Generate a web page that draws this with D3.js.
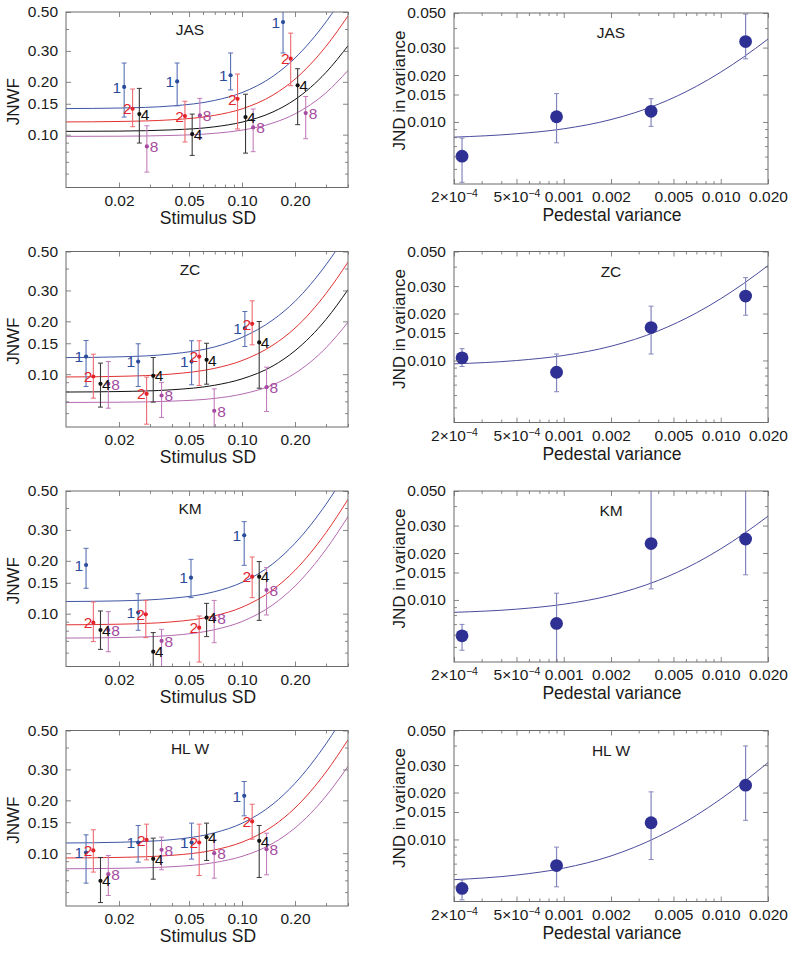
<!DOCTYPE html>
<html><head><meta charset="utf-8">
<script src="https://cdn.jsdelivr.net/npm/d3@7/dist/d3.min.js"></script>
<style>
html,body{margin:0;padding:0;background:#fff;}
svg{display:block;font-family:"Liberation Sans",Arial,Helvetica,sans-serif;}
</style></head>
<body><svg id="c" width="800" height="958"></svg>
<script>
// ---------------- DATA ----------------
const subjects = ["JAS", "ZC", "KM", "HL W"];
const seriesNames = ["1", "2", "4", "8"];

// Left panels: stimulus SD (x), JNWF (y), error-bar low/high, per series 1,2,4,8
const JAS_sd   = [[0.0214,0.0428,0.0861,0.171],[0.0239,0.0474,0.0943,0.189],[0.0261,0.0521,0.1047,0.207],[0.0288,0.0576,0.1157,0.230]];
const JAS_jnwf = [[0.187,0.201,0.218,0.438],[0.1405,0.1277,0.160,0.271],[0.131,0.1008,0.126,0.191],[0.0857,0.1288,0.110,0.1328]];
const JAS_lo   = [[0.126,0.146,0.180,0.292],[0.111,0.0908,0.1077,0.190],[0.0896,0.0762,0.0785,0.114],[0.0612,0.0950,0.080,0.0948]];
const JAS_hi   = [[0.256,0.256,0.292,0.55],[0.182,0.155,0.2215,0.379],[0.1835,0.131,0.170,0.2376],[0.1124,0.161,0.140,0.165]];

const ZC_sd    = [[0.0130,0.0257,0.0517,0.1038],[0.0143,0.0287,0.0571,0.1142],[0.0157,0.0313,0.0629,0.1252],[0.0174,0.0349,0.0695,0.1378]];
const ZC_jnwf  = [[0.126,0.118,0.118,0.183],[0.097,0.0773,0.126,0.1936],[0.0881,0.0979,0.1207,0.1516],[0.0881,0.0756,0.0618,0.0843]];
const ZC_lo    = [[0.0851,0.0851,0.087,0.1438],[0.073,0.0519,0.0862,0.147],[0.0649,0.0693,0.0877,0.0832],[0.064,0.0567,0.048,0.0613]];
const ZC_hi    = [[0.1556,0.149,0.155,0.2276],[0.130,0.0962,0.155,0.2618],[0.1156,0.1244,0.150,0.1996],[0.118,0.0896,0.0825,0.1096]];

const KM_sd    = [[0.0130,0.0257,0.0513,0.1029],[0.0143,0.0284,0.0571,0.1142],[0.0157,0.0313,0.0629,0.1252],[0.0174,0.0349,0.0695,0.1378]];
const KM_jnwf  = [[0.1894,0.1014,0.1604,0.2795],[0.0889,0.0992,0.0832,0.1625],[0.0807,0.0607,0.0949,0.1625],[0.0807,0.0699,0.094,0.1364]];
const KM_lo    = [[0.1395,0.0804,0.1234,0.1886],[0.0693,0.073,0.053,0.1234],[0.0626,0.048,0.074,0.0916],[0.0607,0.048,0.0683,0.0983]];
const KM_hi    = [[0.2357,0.130,0.204,0.3345],[0.1166,0.119,0.097,0.2104],[0.1036,0.078,0.1145,0.198],[0.1027,0.0814,0.119,0.183]];

const HLW_sd   = [[0.0130,0.0257,0.0517,0.1029],[0.0143,0.0287,0.0571,0.1142],[0.0157,0.0313,0.0629,0.1252],[0.0174,0.0349,0.0695,0.1378]];
const HLW_jnwf = [[0.1009,0.115,0.115,0.2122],[0.1036,0.119,0.115,0.1516],[0.0696,0.0928,0.1234,0.1176],[0.0759,0.1045,0.100,0.1054]];
const HLW_lo   = [[0.0675,0.0889,0.0925,0.1632],[0.078,0.0916,0.0746,0.1202],[0.0523,0.0711,0.0909,0.0727],[0.0574,0.0804,0.072,0.0753]];
const HLW_hi   = [[0.1272,0.1438,0.1483,0.2561],[0.1359,0.1463,0.1463,0.190],[0.0945,0.1218,0.1483,0.1438],[0.097,0.1234,0.119,0.130]];

// Fitted curves in left panels (at these SDs)
const curveSD = [0.01, 0.02, 0.04, 0.07, 0.1, 0.15, 0.2, 0.3, 0.4];
const JAS_fit = {"1":[0.1408,0.1418,0.1458,0.1568,0.1737,0.2152,0.2733,0.439,0.672],
                 "2":[0.1182,0.1189,0.1216,0.1289,0.1403,0.1682,0.2072,0.3187,0.4748],
                 "4":[0.1044,0.1048,0.1065,0.1109,0.1179,0.1348,0.1585,0.2263,0.3211],
                 "8":[0.0978,0.0980,0.0990,0.1018,0.1061,0.1166,0.1313,0.1733,0.2321]};
const ZC_fit  = {"1":[0.1243,0.1255,0.1305,0.1430,0.1620,0.2040,0.2600,0.4200,0.6400],
                 "2":[0.0964,0.0972,0.1002,0.1080,0.1195,0.1465,0.1830,0.2880,0.4350],
                 "4":[0.0791,0.0796,0.0815,0.0865,0.0940,0.1115,0.1360,0.2050,0.3030],
                 "8":[0.0690,0.0692,0.0702,0.0728,0.0770,0.0870,0.1011,0.1414,0.1977]};
const KM_fit  = {"1":[0.1173,0.1183,0.1224,0.1335,0.1507,0.1928,0.2518,0.4203,0.6562],
                 "2":[0.0864,0.0871,0.0898,0.0973,0.1088,0.1371,0.1766,0.2896,0.4478],
                 "8":[0.0726,0.0731,0.0752,0.0811,0.0902,0.1125,0.1436,0.2326,0.3572]};
const HLW_fit = {"1":[0.1143,0.1154,0.1194,0.1307,0.1480,0.1905,0.2500,0.4200,0.6580],
                 "2":[0.0939,0.0946,0.0972,0.1044,0.1155,0.1428,0.1809,0.2899,0.4425],
                 "8":[0.0815,0.0820,0.0837,0.0885,0.0959,0.1139,0.1392,0.2115,0.3126]};

// Right panels: pedestal variance vs JND in variance
const pedestal = [2.25e-4, 9e-4, 3.6e-3, 0.0144];
const JAS_jnd = [0.00603,0.0108,0.0117,0.0328], JAS_jlo = [0.0041,0.00735,0.00937,0.0254], JAS_jhi = [0.00788,0.0152,0.0141,0.0492];
const ZC_jnd  = [0.0104,0.0084,0.01625,0.0259], ZC_jlo  = [0.00915,0.0063,0.011,0.0195],   ZC_jhi  = [0.0119,0.011,0.0223,0.034];
const KM_jnd  = [0.00589,0.00707,0.023,0.0246], KM_jlo  = [0.00476,0.0038,0.01178,0.0145], KM_jhi  = [0.00697,0.01105,0.055,0.055];
const HLW_jnd = [0.00485,0.0068,0.0128,0.0223], HLW_jlo = [0.0041,0.00497,0.00743,0.01327], HLW_jhi = [0.0055,0.00893,0.0202,0.0398];
const curvePed = [2e-4, 5e-4, 0.001, 0.002, 0.004, 0.007, 0.01, 0.014, 0.02];
const JAS_rfit = [0.00799,0.0084,0.00904,0.01036,0.01299,0.01693,0.02087,0.02613,0.03401];
const ZC_rfit  = [0.00951,0.00999,0.01077,0.01234,0.01548,0.02019,0.0249,0.03118,0.0406];
const KM_rfit  = [0.00833,0.00873,0.00939,0.01071,0.01335,0.01731,0.02127,0.02655,0.03447];
const HLW_rfit = [0.00552,0.00591,0.00655,0.00784,0.01043,0.0143,0.01818,0.02335,0.0311];

// Ticks
const leftXTicks = [0.02, 0.05, 0.10, 0.20];
const leftXTickLabels = ["0.02", "0.05", "0.10", "0.20"];
const leftXMinor = [0.03,0.04,0.06,0.07,0.08,0.09,0.3,0.4];
const leftYTicks = [0.10, 0.15, 0.20, 0.30, 0.50];
const leftYTickLabels = ["0.10", "0.15", "0.20", "0.30", "0.50"];
const leftYMinor = [0.06,0.07,0.08,0.09,0.4];
const rightXTicks = [2e-4, 5e-4, 0.001, 0.002, 0.005, 0.010, 0.020];
const rightXTickLabels = ["2×10^-4", "5×10^-4", "0.001", "0.002", "0.005", "0.010", "0.020"];
const rightXMinor = [3e-4,4e-4,6e-4,7e-4,8e-4,9e-4,0.003,0.004,0.006,0.007,0.008,0.009];
const rightYTicks = [0.010, 0.015, 0.020, 0.030, 0.050];
const rightYTickLabels = ["0.010", "0.015", "0.020", "0.030", "0.050"];
const rightYMinor = [0.005,0.006,0.007,0.008,0.009,0.04];

// ---------------- STYLE / LAYOUT ----------------
const dotColor  = {"1":"#2b4b9b","2":"#e3242b","4":"#111111","8":"#a54ca0"};
const barColor  = {"1":"#5670b4","2":"#ec6a70","4":"#3a3a3a","8":"#c27cbb"};
const lineColor = {"1":"#3f56a6","2":"#e23232","4":"#111111","8":"#b46ab0"};
const labelOffset = {"1":-3, "2":-1, "4":1.5, "8":3};
const leftData = [
  {sd:JAS_sd, y:JAS_jnwf, lo:JAS_lo, hi:JAS_hi, fit:JAS_fit},
  {sd:ZC_sd, y:ZC_jnwf, lo:ZC_lo, hi:ZC_hi, fit:ZC_fit},
  {sd:KM_sd, y:KM_jnwf, lo:KM_lo, hi:KM_hi, fit:KM_fit},
  {sd:HLW_sd, y:HLW_jnwf, lo:HLW_lo, hi:HLW_hi, fit:HLW_fit}];
const rightData = [
  {y:JAS_jnd, lo:JAS_jlo, hi:JAS_jhi, fit:JAS_rfit},
  {y:ZC_jnd, lo:ZC_jlo, hi:ZC_jhi, fit:ZC_rfit},
  {y:KM_jnd, lo:KM_jlo, hi:KM_jhi, fit:KM_rfit},
  {y:HLW_jnd, lo:HLW_jlo, hi:HLW_jhi, fit:HLW_rfit}];

const tops = [12, 251.5, 491, 730.5];
const LX0 = 66, LX1 = 348, LH = 175.5;
const RX0 = 454, RX1 = 768, RH = 171;
const FRAME = "#6a6a6a", TEXT = "#1a1a1a";

const svg = d3.select("#c");

function frameAxes(g, x, y, xT, xL, xM, yT, yL, yM, x0, x1, y0, y1, fmtX) {
  const bx = g.append("g").attr("transform", `translate(0,${y1})`)
    .call(d3.axisBottom(x).tickValues(xT).tickSize(-5).tickPadding(7).tickFormat((d,i)=>xL[i]));
  const bxm = g.append("g").attr("transform", `translate(0,${y1})`)
    .call(d3.axisBottom(x).tickValues(xM).tickSize(-3).tickFormat(""));
  const tx = g.append("g").attr("transform", `translate(0,${y0})`)
    .call(d3.axisTop(x).tickValues(xT).tickSize(-5).tickFormat(""));
  const txm = g.append("g").attr("transform", `translate(0,${y0})`)
    .call(d3.axisTop(x).tickValues(xM).tickSize(-3).tickFormat(""));
  const ly = g.append("g").attr("transform", `translate(${x0},0)`)
    .call(d3.axisLeft(y).tickValues(yT).tickSize(-5).tickPadding(8).tickFormat((d,i)=>yL[i]));
  const lym = g.append("g").attr("transform", `translate(${x0},0)`)
    .call(d3.axisLeft(y).tickValues(yM).tickSize(-3).tickFormat(""));
  const ry = g.append("g").attr("transform", `translate(${x1},0)`)
    .call(d3.axisRight(y).tickValues(yT).tickSize(-5).tickFormat(""));
  const rym = g.append("g").attr("transform", `translate(${x1},0)`)
    .call(d3.axisRight(y).tickValues(yM).tickSize(-3).tickFormat(""));
  [bx,bxm,tx,txm,ly,lym,ry,rym].forEach(a=>{
    a.select(".domain").remove();
    a.selectAll("line").attr("stroke", FRAME).attr("stroke-width", 0.8);
    a.selectAll("text").attr("fill", TEXT).style("font-size","15.5px")
      .style("font-family",'"Liberation Sans",Arial,sans-serif');
  });
  if (fmtX) {
    bx.selectAll("text").each(function(d,i){
      const s = xL[i];
      if (s.indexOf("^") >= 0) {
        const parts = s.split("^");
        const t = d3.select(this).text(null);
        t.append("tspan").text(parts[0]);
        t.append("tspan").attr("dy","-0.45em").style("font-size","10.5px").text(parts[1].replace("-","\u2212"));
      }
    });
  }
  g.append("rect").attr("x", x0).attr("y", y0).attr("width", x1-x0).attr("height", y1-y0)
    .attr("fill","none").attr("stroke", FRAME).attr("stroke-width", 1);
}

// ---------------- LEFT PANELS ----------------
leftData.forEach((D, p) => {
  const top = tops[p], bot = top + LH;
  const x = d3.scaleLog().domain([0.01, 0.4]).range([LX0, LX1]);
  const y = d3.scaleLog().domain([0.05, 0.5]).range([bot, top]);
  const g = svg.append("g");
  const cid = "clipL" + p;
  g.append("clipPath").attr("id", cid).append("rect")
    .attr("x", LX0).attr("y", top).attr("width", LX1-LX0).attr("height", LH);
  const inner = g.append("g").attr("clip-path", `url(#${cid})`);

  Object.keys(D.fit).forEach(k => {
    const pts = curveSD.map((s,i)=>[x(s), y(D.fit[k][i])]);
    inner.append("path").attr("d", d3.line().curve(d3.curveMonotoneX)(pts))
      .attr("fill","none").attr("stroke", lineColor[k]).attr("stroke-width", 1);
  });

  seriesNames.forEach((k, si) => {
    D.sd[si].forEach((s, i) => {
      const cx = x(s), cy = y(D.y[si][i]);
      const yl = y(D.lo[si][i]), yh = y(D.hi[si][i]);
      inner.append("line").attr("x1",cx).attr("x2",cx).attr("y1",yl).attr("y2",yh)
        .attr("stroke", barColor[k]).attr("stroke-width", 1.1);
      [yl, yh].forEach(yy => inner.append("line").attr("x1",cx-2.5).attr("x2",cx+2.5)
        .attr("y1",yy).attr("y2",yy).attr("stroke", barColor[k]).attr("stroke-width", 1));
      inner.append("circle").attr("cx",cx).attr("cy",cy).attr("r",2.1).attr("fill", dotColor[k]);
      const leftSide = (k === "1" || k === "2");
      g.append("text").attr("x", cx + labelOffset[k]).attr("y", cy+5.7)
        .attr("text-anchor", leftSide ? "end" : "start")
        .attr("fill", dotColor[k]).style("font-size","15.5px").text(k);
    });
  });

  frameAxes(g, x, y, leftXTicks, leftXTickLabels, leftXMinor, leftYTicks, leftYTickLabels, leftYMinor, LX0, LX1, top, bot, false);

  g.append("text").attr("x", 190).attr("y", top + 23).attr("text-anchor","middle")
    .attr("fill", TEXT).style("font-size","15.5px").text(subjects[p]);
  g.append("text").attr("x", LX0 + (LX1-LX0)/2 + 1).attr("y", bot + 36).attr("text-anchor","middle")
    .attr("fill", TEXT).style("font-size","17.5px").text("Stimulus SD");
  g.append("text").attr("transform", `translate(19,${(top+bot)/2+2}) rotate(-90)`)
    .attr("text-anchor","middle").attr("fill", TEXT).style("font-size","17px").text("JNWF");
});

// ---------------- RIGHT PANELS ----------------
rightData.forEach((D, p) => {
  const top = tops[p] + (p === 0 ? 1 : 0), bot = top + RH;
  const x = d3.scaleLog().domain([2e-4, 0.02]).range([RX0, RX1]);
  const y = d3.scaleLog().domain([0.004, 0.05]).range([bot, top]);
  const g = svg.append("g");
  const cid = "clipR" + p;
  g.append("clipPath").attr("id", cid).append("rect")
    .attr("x", RX0).attr("y", top).attr("width", RX1-RX0).attr("height", RH);
  const inner = g.append("g").attr("clip-path", `url(#${cid})`);

  const pts = curvePed.map((s,i)=>[x(s), y(D.fit[i])]);
  inner.append("path").attr("d", d3.line().curve(d3.curveMonotoneX)(pts))
    .attr("fill","none").attr("stroke", "#4b4b9c").attr("stroke-width", 1);

  pedestal.forEach((s, i) => {
    const cx = x(s), cy = y(D.y[i]);
    const yl = y(D.lo[i]), yh = y(D.hi[i]);
    inner.append("line").attr("x1",cx).attr("x2",cx).attr("y1",yl).attr("y2",yh)
      .attr("stroke", "#8585bd").attr("stroke-width", 1.2);
    [yl, yh].forEach(yy => inner.append("line").attr("x1",cx-2.5).attr("x2",cx+2.5)
      .attr("y1",yy).attr("y2",yy).attr("stroke", "#8585bd").attr("stroke-width", 1));
    inner.append("circle").attr("cx",cx).attr("cy",cy).attr("r",6.4).attr("fill", "#2e3193");
  });

  frameAxes(g, x, y, rightXTicks, rightXTickLabels, rightXMinor, rightYTicks, rightYTickLabels, rightYMinor, RX0, RX1, top, bot, true);

  g.append("text").attr("x", (RX0+RX1)/2).attr("y", top + 25).attr("text-anchor","middle")
    .attr("fill", TEXT).style("font-size","15.5px").text(subjects[p]);
  g.append("text").attr("x", (RX0+RX1)/2 + 1).attr("y", bot + 37).attr("text-anchor","middle")
    .attr("fill", TEXT).style("font-size","17.5px").text("Pedestal variance");
  g.append("text").attr("transform", `translate(405,${(top+bot)/2-8}) rotate(-90)`)
    .attr("text-anchor","middle").attr("fill", TEXT).style("font-size","17px").text("JND in variance");
});
</script></body></html>
